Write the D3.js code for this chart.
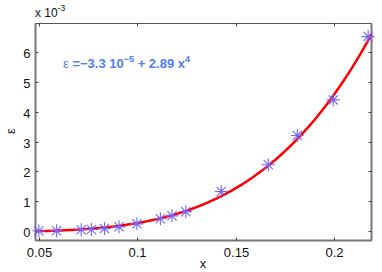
<!DOCTYPE html>
<html><head><meta charset="utf-8">
<script src="https://cdn.jsdelivr.net/npm/d3@7"></script>
<style>body{margin:0;background:#fff}svg{display:block}text{font-family:"Liberation Sans",Arial,sans-serif}</style>
</head><body>
<svg id="c" width="382" height="272"></svg>
<script>
const xData = [0.05, 0.059, 0.0715, 0.0767, 0.0833, 0.0907, 0.0998, 0.1117, 0.1176, 0.1246, 0.1426, 0.1665, 0.1812, 0.1995, 0.2172];
const yData = [0.0, 0.0, 0.03, 0.04, 0.07, 0.13, 0.23, 0.40, 0.50, 0.64, 1.32, 2.22, 3.20, 4.40, 6.53];
const xTicks = [0.05, 0.1, 0.15, 0.2];
const yTicks = [0, 1, 2, 3, 4, 5, 6];
const fitA = -0.033, fitB = 2890; // in units of 1e-3

const svg = d3.select("#c");
const L = 35.5, R = 371.5, T = 23.5, B = 240.5;
const x = d3.scaleLinear().domain([0.0483, 0.2189]).range([L, R]);
const y = d3.scaleLinear().domain([-0.33, 6.97]).range([B, T]);

// box
svg.append("rect").attr("x", L).attr("y", T).attr("width", R - L).attr("height", B - T)
  .attr("fill", "none").attr("stroke", "#555").attr("stroke-width", 1);
svg.append("line").attr("x1", L).attr("x2", L).attr("y1", T).attr("y2", B).attr("stroke", "#777").attr("stroke-width", 2);
svg.append("line").attr("x1", R).attr("x2", R).attr("y1", T).attr("y2", B).attr("stroke", "#777").attr("stroke-width", 2);
svg.append("line").attr("x1", L).attr("x2", R).attr("y1", B).attr("y2", B).attr("stroke", "#777").attr("stroke-width", 2);

const tl = 3;
const gx = svg.append("g");
xTicks.forEach(t => {
  const px = Math.round(x(t)) + 0.5;
  gx.append("line").attr("x1", px).attr("x2", px).attr("y1", B).attr("y2", B - tl).attr("stroke", "#444");
  gx.append("line").attr("x1", px).attr("x2", px).attr("y1", T).attr("y2", T + tl).attr("stroke", "#444");
  gx.append("text").attr("x", px).attr("y", B + 16).attr("text-anchor", "middle").attr("font-size", 13).attr("fill", "#111").text(String(t));
});
const gy = svg.append("g");
yTicks.forEach(t => {
  const py = Math.round(y(t)) + 0.5;
  gy.append("line").attr("x1", L).attr("x2", L + tl).attr("y1", py).attr("y2", py).attr("stroke", "#444");
  gy.append("line").attr("x1", R).attr("x2", R - tl).attr("y1", py).attr("y2", py).attr("stroke", "#444");
  gy.append("text").attr("x", L - 5).attr("y", py + 5).attr("text-anchor", "end").attr("font-size", 13).attr("fill", "#111").text(String(t));
});

// exponent label
const ex = svg.append("text").attr("x", 35).attr("y", 17).attr("font-size", 12).attr("fill", "#111");
ex.append("tspan").text("x 10");
ex.append("tspan").attr("dy", -6).attr("font-size", 8.5).text("-3");

// axis labels
svg.append("text").attr("x", 203).attr("y", 268).attr("text-anchor", "middle").attr("font-size", 13).attr("fill", "#111").text("x");
svg.append("text").attr("transform", "translate(15,131) rotate(-90)").attr("text-anchor", "middle").attr("font-size", 13).attr("fill", "#111").text("ε");

// fit curve
const xs = d3.range(0, 201).map(i => x.domain()[0] + (x.domain()[1] - x.domain()[0]) * i / 200);
svg.append("path").datum(xs)
  .attr("d", d3.line().x(d => x(d)).y(d => y(fitA + fitB * Math.pow(d, 4))))
  .attr("fill", "none").attr("stroke", "#ff0000").attr("stroke-width", 2.5);

// markers
const s = 6.5, sd = 4.6;
const mg = svg.append("g").attr("stroke", "#7466ff").attr("stroke-width", 1.1).attr("fill", "none");
xData.forEach((xv, i) => {
  const px = x(xv), py = y(yData[i]);
  mg.append("path").attr("d",
    `M${px - s},${py}L${px + s},${py}M${px},${py - s}L${px},${py + s}` +
    `M${px - sd},${py - sd}L${px + sd},${py + sd}M${px - sd},${py + sd}L${px + sd},${py - sd}`);
});

// equation
const eq = svg.append("text").attr("x", 63).attr("y", 68).attr("font-size", 13).attr("font-weight", "bold").attr("fill", "#4d7ef5");
eq.append("tspan").attr("font-weight", "normal").text("ε ");
eq.append("tspan").text("=−3.3 10");
eq.append("tspan").attr("dy", -6).attr("font-size", 9).text("−5");
eq.append("tspan").attr("dy", 6).text(" + 2.89 x");
eq.append("tspan").attr("dy", -6).attr("font-size", 9).text("4");
</script>
</body></html>
